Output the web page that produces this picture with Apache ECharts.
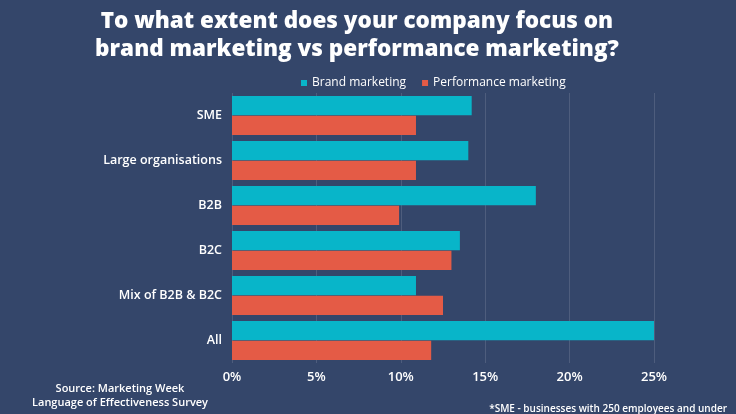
<!DOCTYPE html>
<html>
<head>
<meta charset="utf-8">
<script src="https://cdn.jsdelivr.net/npm/echarts@6/dist/echarts.min.js"></script>
<style>
html,body{margin:0;padding:0;background:#34466a;}
#c{width:736px;height:414px;}
</style>
</head>
<body>
<div id="c"></div>
<script>
const categories = ['SME', 'Large organisations', 'B2B', 'B2C', 'Mix of B2B & B2C', 'All'];
const brandMarketing = [14.2, 14.0, 18.0, 13.5, 10.9, 25.0];
const performanceMarketing = [10.9, 10.9, 9.9, 13.0, 12.5, 11.8];
const xTicks = [0, 5, 10, 15, 20, 25];

const chart = echarts.init(document.getElementById('c'));
const font = '"Open Sans", "Noto Sans", sans-serif';
chart.setOption({
  backgroundColor: '#34466a',
  textStyle: { fontFamily: font },
  graphic: [
    {
      type: 'text', x: 357, y: 8,
      style: {
        text: 'To what extent does your company focus on\nbrand marketing vs performance marketing?',
        fill: '#ffffff', fontSize: 22.5, fontWeight: 800, lineHeight: 28,
        fontFamily: font, align: 'center', textAlign: 'center'
      }
    }
  ],
  title: [
    {
      text: 'Source: Marketing Week\nLanguage of Effectiveness Survey',
      left: 115, top: 377, textAlign: 'center',
      textStyle: { color: '#ffffff', fontSize: 11, fontWeight: 600, lineHeight: 14, fontFamily: font, align: 'center' }
    },
    {
      text: '*SME - businesses with 250 employees and under',
      right: 4, top: 399,
      textStyle: { color: '#ffffff', fontSize: 10, fontWeight: 600, fontFamily: font }
    }
  ],
  legend: {
    top: 72, left: 296,
    itemWidth: 6, itemHeight: 6, itemGap: 16,
    icon: 'rect',
    textStyle: { color: '#ffffff', fontSize: 12, fontFamily: font },
    data: ['Brand marketing', 'Performance marketing']
  },
  grid: { left: 232, right: 82, top: 93, height: 270, containLabel: false },
  xAxis: {
    type: 'value', min: 0, max: 25, interval: 5,
    axisLine: { show: false }, axisTick: { show: false },
    axisLabel: { color: '#ffffff', fontSize: 13, margin: 8, fontWeight: 600,
      formatter: v => xTicks.includes(v) ? v + '%' : '' },
    splitLine: { lineStyle: { color: 'rgba(255,255,255,0.13)', width: 1 } }
  },
  yAxis: {
    type: 'category', data: categories, inverse: true,
    axisLine: { show: false }, axisTick: { show: false },
    axisLabel: { color: '#ffffff', fontSize: 12.5, fontWeight: 600, margin: 10 }
  },
  series: [
    {
      name: 'Brand marketing', type: 'bar', data: brandMarketing,
      itemStyle: { color: '#08b5c9' },
      barCategoryGap: '13%', barGap: '3%'
    },
    {
      name: 'Performance marketing', type: 'bar', data: performanceMarketing,
      itemStyle: { color: '#e45b46' },
      barCategoryGap: '13%', barGap: '3%'
    }
  ]
});
</script>
</body>
</html>
